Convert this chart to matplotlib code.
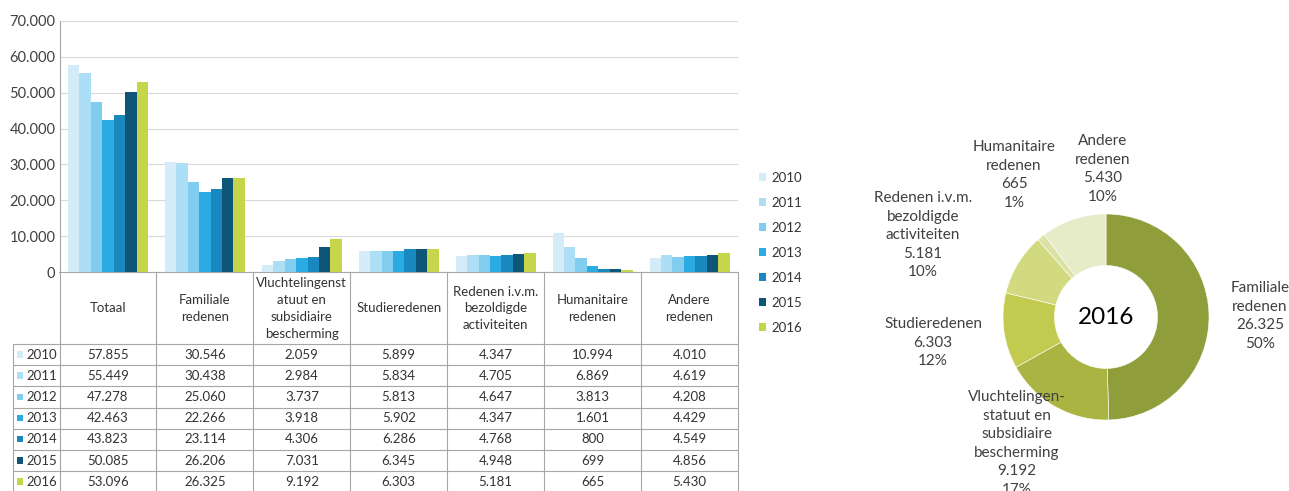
import matplotlib
matplotlib.use("Agg")
import matplotlib.pyplot as plt
from matplotlib.patches import Patch
import numpy as np

plt.rcParams['font.family'] = ['Lato', 'DejaVu Sans']

# ---------------- data ----------------
years = ["2010", "2011", "2012", "2013", "2014", "2015", "2016"]
categories = ["Totaal", "Familiale\nredenen", "Vluchtelingenst\natuut en\nsubsidiaire\nbescherming",
              "Studieredenen", "Redenen i.v.m.\nbezoldigde\nactiviteiten", "Humanitaire\nredenen",
              "Andere\nredenen"]
v2010 = [57855, 30546, 2059, 5899, 4347, 10994, 4010]
v2011 = [55449, 30438, 2984, 5834, 4705, 6869, 4619]
v2012 = [47278, 25060, 3737, 5813, 4647, 3813, 4208]
v2013 = [42463, 22266, 3918, 5902, 4347, 1601, 4429]
v2014 = [43823, 23114, 4306, 6286, 4768, 800, 4549]
v2015 = [50085, 26206, 7031, 6345, 4948, 699, 4856]
v2016 = [53096, 26325, 9192, 6303, 5181, 665, 5430]
series = [v2010, v2011, v2012, v2013, v2014, v2015, v2016]
year_colors = ["#d4ecf7", "#acdef5", "#80cdf0", "#2aabe3", "#1888bf", "#0e5677", "#c6d64b"]

donut_labels = ["Familiale\nredenen", "Vluchtelingen-\nstatuut en\nsubsidiaire\nbescherming",
                "Studieredenen", "Redenen i.v.m.\nbezoldigde\nactiviteiten",
                "Humanitaire\nredenen", "Andere\nredenen"]
donut_values = v2016[1:]
donut_colors = ["#8f9e3a", "#a9b443", "#c2cb50", "#d2da80", "#dbe2a4", "#e6ecc8"]
donut_title = "2016"


def nl(v):
    return f"{v:,}".replace(",", ".")


W, H = 1289, 491
fig = plt.figure(figsize=(W / 100, H / 100), dpi=100)


def fx(px):
    return px / W


def fy(py):
    return 1 - py / H


# ---------------- bar chart ----------------
L, R, T, B = 59.5, 738, 21, 272
ax = fig.add_axes([fx(L), fy(B), fx(R - L), (B - T) / H])
n = len(categories)
x = np.arange(n)
bw = 0.118
for i, (vals, c) in enumerate(zip(series, year_colors)):
    ax.bar(x + (i - 3) * bw, vals, width=bw, color=c, label=years[i], zorder=3)
ax.set_xlim(-0.5, n - 0.5)
ax.set_ylim(0, 70000)
yt = np.arange(0, 70001, 10000)
ax.set_yticks(yt)
ax.set_yticklabels([nl(int(v)) for v in yt], fontsize=10.5, color="#404040")
ax.set_xticks([])
ax.grid(axis='y', color="#d9d9d9", linewidth=0.8, zorder=0)
for s in ["top", "right"]:
    ax.spines[s].set_visible(False)
ax.spines["left"].set_color("#a6a6a6")
ax.spines["bottom"].set_color("#a6a6a6")
ax.tick_params(axis='y', length=0, pad=3)

# legend
handles = [Patch(facecolor=c, edgecolor='none') for c in year_colors]
fig.legend(handles, years, loc='upper left', bbox_to_anchor=(fx(759), fy(172)),
           frameon=False, fontsize=9.5, handlelength=0.55, handleheight=0.55,
           handletextpad=0.4, labelspacing=0.98, borderpad=0, borderaxespad=0,
           labelcolor="#333333")

# ---------------- table (overlay in pixel coordinates) ----------------
ov = fig.add_axes([0, 0, 1, 1])
ov.set_xlim(0, W)
ov.set_ylim(H, 0)
ov.axis('off')
ov.set_zorder(10)
lc = "#a6a6a6"
colw = (R - L) / n
col_edges = [L + k * colw for k in range(n + 1)]
head_bot = 344
rowh = 21.2
row_edges = [head_bot + k * rowh for k in range(len(years) + 1)]
tab_left = 12.5
for k, xe in enumerate(col_edges):
    ov.plot([xe, xe], [B, H + 5], color=lc, lw=0.8)
ov.plot([tab_left, tab_left], [head_bot, H + 5], color=lc, lw=0.8)
for ye in row_edges:
    ov.plot([tab_left, R], [ye, ye], color=lc, lw=0.8)


def multiline(xc, yc, txt, step, **kw):
    lines = txt.split("\n")
    y0 = yc - step * (len(lines) - 1) / 2
    for i, ln in enumerate(lines):
        ov.text(xc, y0 + i * step, ln, ha='center', va='center', **kw)


for k, cat in enumerate(categories):
    multiline(col_edges[k] + colw / 2, (B + head_bot) / 2 + 0.5, cat, 16.7,
              fontsize=9.5, color="#333333")
for r, (yr, vals, c) in enumerate(zip(years, series, year_colors)):
    yc = row_edges[r] + rowh / 2
    ov.add_patch(plt.Rectangle((16.5, yc - 3.5), 6.5, 6.5, color=c, lw=0))
    ov.text(26, yc, yr, ha='left', va='center', fontsize=9.5, color="#333333")
    for k, v in enumerate(vals):
        ov.text(col_edges[k] + colw / 2, yc, nl(v), ha='center', va='center',
                fontsize=9.5, color="#333333")

# ---------------- donut ----------------
cx, cy, rad = 1106, 317, 103
dax = fig.add_axes([fx(cx - rad), fy(cy + rad), fx(2 * rad), 2 * rad / H])
dax.pie(donut_values, colors=donut_colors, startangle=90, counterclock=False,
        radius=1, wedgeprops=dict(width=0.5, edgecolor='white', linewidth=0.4))
dax.set_xlim(-1, 1)
dax.set_ylim(-1, 1)
dax.set_aspect('equal')
dax.axis('off')
dax.text(0, 0, donut_title, ha='center', va='center', fontsize=17.5, color="#000000")

total = sum(donut_values)
# label positions (center x, first line center y) in pixels
label_pos = [(1260, 288), (1017, 397), (933, 324), (923, 198), (1014, 147), (1103, 141)]
step = 18.6
for lab, v, (lx, ly) in zip(donut_labels, donut_values, label_pos):
    txt = f"{lab}\n{nl(v)}\n{round(100 * v / total):.0f}%"
    nlines = txt.count("\n") + 1
    multiline(lx, ly + step * (nlines - 1) / 2, txt, step, fontsize=11, color="#404040")

fig.savefig("out.png", dpi=100)
